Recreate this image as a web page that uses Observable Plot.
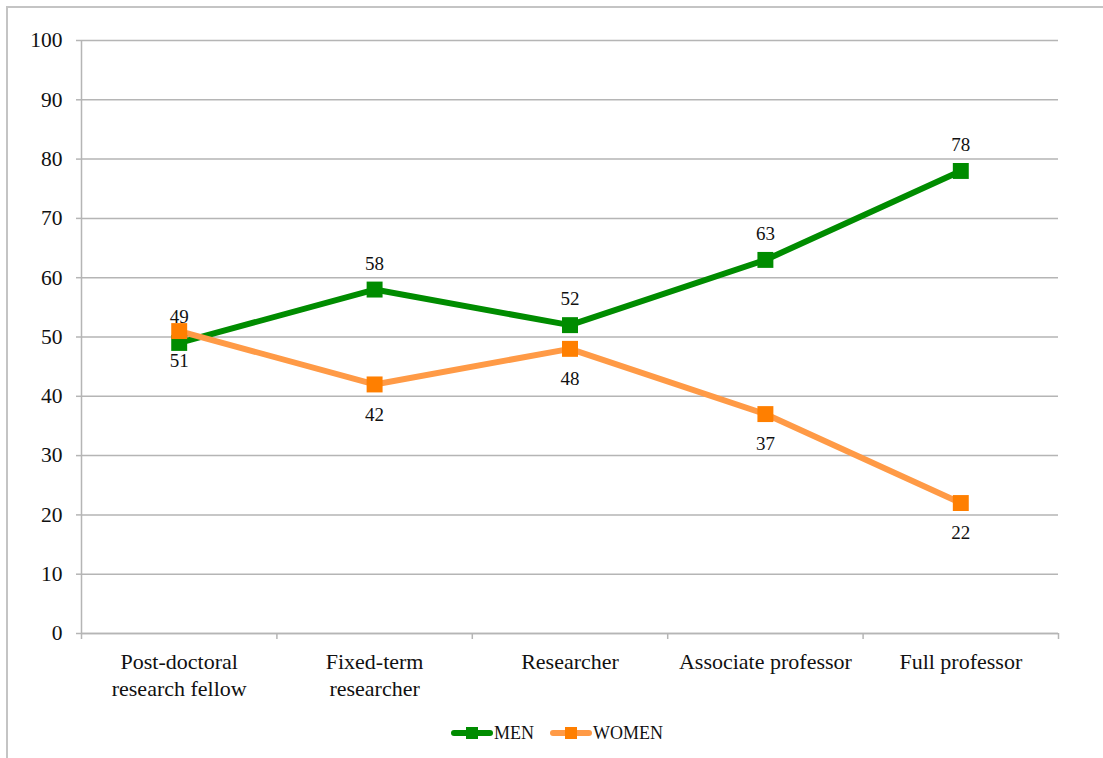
<!DOCTYPE html>
<html>
<head>
<meta charset="utf-8">
<script src="https://cdn.jsdelivr.net/npm/d3@7"></script>
<script src="https://cdn.jsdelivr.net/npm/@observablehq/plot@0.6"></script>
<style>
  html, body { margin: 0; padding: 0; background: #fff; }
  body { width: 1103px; height: 758px; position: relative; overflow: hidden; font-family: "Liberation Serif", "DejaVu Serif", serif; }
  #chart svg, #chart svg text { font-family: "Liberation Serif", "DejaVu Serif", serif !important; }
  #frame { position: absolute; left: 6px; top: 6px; width: 1200px; height: 800px; border-top: 2px solid #c4c4c4; border-left: 2px solid #c4c4c4; }
  #chart { position: absolute; left: 0; top: 0; }
  #legend { position: absolute; top: 721px; left: 451px; display: flex; align-items: center; font-size: 18px; color: #111; line-height: 24px; }
  .item { display: flex; align-items: center; margin-right: 16px; }
  .item svg { margin-right: 1px; }
</style>
</head>
<body>
<div id="frame"></div>
<div id="chart"></div>
<div id="legend"></div>
<script>
const categories = ["Post-doctoral\nresearch fellow", "Fixed-term\nresearcher", "Researcher", "Associate professor", "Full professor"];
const men = [49, 58, 52, 63, 78];
const women = [51, 42, 48, 37, 22];
const yTicks = [0, 10, 20, 30, 40, 50, 60, 70, 80, 90, 100];
const seriesNames = ["MEN", "WOMEN"];

const menColor = "#008c00";
const womenLine = "#ff9a46";
const womenMarker = "#ff7f00";
const gridColor = "#b5b5b5";
const serif = "'Liberation Serif', 'DejaVu Serif', serif";

const idx = categories.map((_, i) => i);
const menData = idx.map(i => ({i, v: men[i]}));
const womenData = idx.map(i => ({i, v: women[i]}));
const boundaries = d3.range(categories.length + 1).map(k => k - 0.5);

const plot = Plot.plot({
  width: 1103,
  height: 710,
  marginLeft: 81,
  marginRight: 45,
  marginTop: 40,
  marginBottom: 77,
  style: { fontFamily: serif, background: "transparent" },
  x: { type: "linear", domain: [-0.5, categories.length - 0.5] },
  y: { domain: [0, 100] },
  marks: [
    Plot.gridY(yTicks, { stroke: gridColor, strokeOpacity: 1, strokeWidth: 1.5 }),
    Plot.axisY(yTicks, { tickSize: 5, tickPadding: 14, fontSize: 21.5, fontFamily: serif, stroke: gridColor, strokeWidth: 1.5, color: "#111", label: null }),
    Plot.ruleX([-0.5], { stroke: gridColor, strokeWidth: 1.5 }),
    Plot.ruleY([0], { stroke: gridColor, strokeWidth: 1.5 }),
    Plot.axisX(boundaries, { tickSize: 6, tickFormat: () => "", stroke: gridColor, strokeWidth: 1.5, label: null }),
    Plot.axisX(idx, { tickSize: 0, tickPadding: 16, tickFormat: i => categories[i], fontSize: 22, fontFamily: serif, lineHeight: 1.23, color: "#111", label: null }),
    Plot.line(menData, { x: "i", y: "v", stroke: menColor, strokeWidth: 6, strokeLinejoin: "round" }),
    Plot.line(womenData, { x: "i", y: "v", stroke: womenLine, strokeWidth: 6, strokeLinejoin: "round" }),
    Plot.dot(menData, { x: "i", y: "v", symbol: "square", r: 9, fill: menColor, stroke: null }),
    Plot.dot(womenData, { x: "i", y: "v", symbol: "square", r: 9, fill: womenMarker, stroke: null }),
    Plot.text(menData, { x: "i", y: "v", text: d => String(d.v), dy: -26, fontSize: 19, fontFamily: serif, fill: "#111" }),
    Plot.text(womenData, { x: "i", y: "v", text: d => String(d.v), dy: 30, fontSize: 19, fontFamily: serif, fill: "#111" })
  ]
});
document.getElementById("chart").appendChild(plot);

const legend = document.getElementById("legend");
const legendColors = [[menColor, menColor], [womenLine, womenMarker]];
seriesNames.forEach((name, k) => {
  const item = document.createElement("div");
  item.className = "item";
  const [lc, mc] = legendColors[k];
  item.innerHTML = `<svg width="42" height="14"><line x1="3" y1="7" x2="39" y2="7" stroke="${lc}" stroke-width="6" stroke-linecap="round"/><rect x="15" y="1" width="12" height="12" fill="${mc}"/></svg><span>${name}</span>`;
  legend.appendChild(item);
});
</script>
</body>
</html>
